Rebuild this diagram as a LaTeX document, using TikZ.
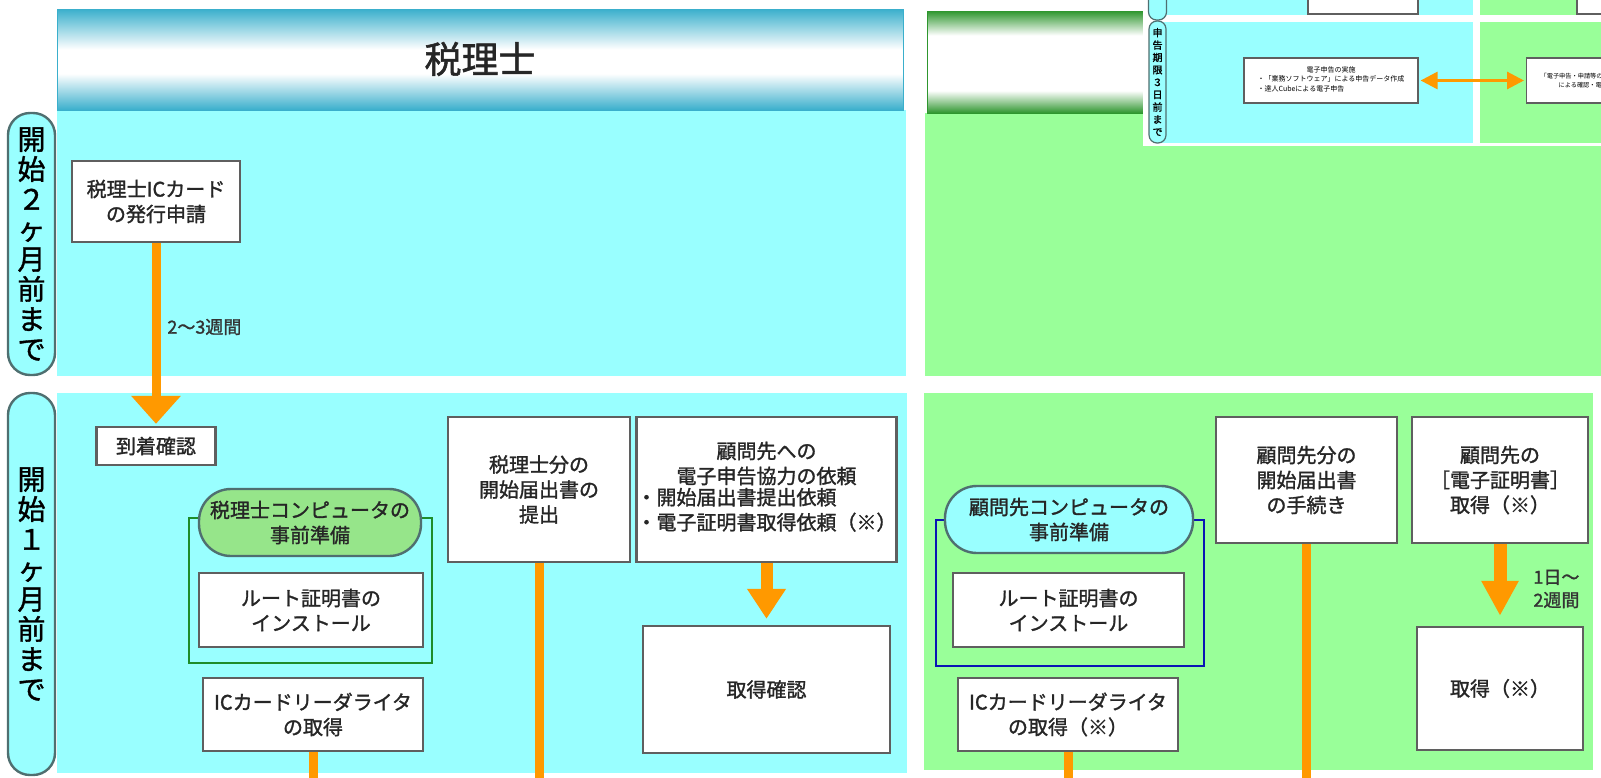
\documentclass[tikz,border=0pt]{standalone}
\usepackage{fontspec}
\setmainfont{Noto Sans CJK JP}[AutoFakeBold=1.4]
\usetikzlibrary{arrows.meta,positioning}
\definecolor{skyband}{HTML}{99FFFF}
\definecolor{leafband}{HTML}{99FF99}
\definecolor{hdrteal}{HTML}{3AAFCC}
\definecolor{hdrgreen}{HTML}{2E962E}
\definecolor{flow}{HTML}{FF9900}
\definecolor{boxgray}{HTML}{5F5F5F}
\definecolor{pillgray}{HTML}{4F6F70}
\definecolor{pillgreen}{HTML}{96E58A}
\definecolor{frameg}{HTML}{1E8C2A}
\definecolor{frameb}{HTML}{0A14B4}
\pgfdeclareverticalshading{tealbar}{100bp}{color(0bp)=(hdrteal); color(25bp)=(hdrteal); color(43bp)=(white); color(55bp)=(white); color(75bp)=(hdrteal); color(100bp)=(hdrteal)}
\pgfdeclareverticalshading{greenbar}{100bp}{color(0bp)=(hdrgreen); color(25bp)=(hdrgreen); color(36bp)=(white); color(63bp)=(white); color(75bp)=(hdrgreen); color(100bp)=(hdrgreen)}
\tikzset{
box/.style={draw=boxgray, line width=1.2pt, fill=white, align=center, inner sep=0pt, text=black!85, font=\fontsize{10}{12.5}\selectfont\bfseries}, % white step boxes
period/.style={draw=pillgray, line width=1.2pt, fill=skyband, rounded corners=11pt, minimum width=23.5pt, inner sep=0pt, align=center, font=\fontsize{14}{15}\selectfont\bfseries}, % time column on the left
prep/.style={draw=pillgray, line width=1.2pt, rounded corners=16pt, minimum height=33.5pt, inner sep=0pt, align=center, text=black!85, font=\fontsize{10}{12.5}\selectfont\bfseries}, % rounded title of a frame
flowline/.style={draw=flow, line width=4.5pt}, % orange connector
flowarrow/.style={flowline, -{Triangle[width=24pt,length=14pt]}}, % orange connector with head
note/.style={inner sep=0pt, align=left, text=black!80, font=\fontsize{9}{11.5}\selectfont\bfseries}, % waiting time
minibox/.style={draw=boxgray, line width=0.6pt, fill=white, inner sep=0pt}, % boxes in the small picture
}
\begin{document}
\begin{tikzpicture}[x=0.5pt,y=-0.5pt]
\useasboundingbox (0,0) rectangle (1601,777);
% bands
\fill[skyband] (57,110) rectangle (906,376);
\fill[leafband] (925,113) rectangle (1601,376);
\fill[skyband] (57,393) rectangle (907,773);
\fill[leafband] (924,393) rectangle (1593,770);
\shade[shading=tealbar, draw=hdrteal] (57,9) rectangle (903,110);
\shade[shading=greenbar, draw=hdrgreen] (927,11) rectangle (1601,113);
\node[text=black!85, font=\fontsize{18.5}{20}\selectfont\bfseries] (title) at (480,59) {税理士};
\node[period, minimum height=131pt] (term2) at (31.5,244) {開\\始\\２\\ヶ\\月\\前\\ま\\で};
\node[period, minimum height=191pt] (term1) at (31.5,584) {開\\始\\１\\ヶ\\月\\前\\ま\\で};
% frames
\draw[frameg, line width=1.3pt] (189,518) rectangle (432,663);
\draw[frameb, line width=1.3pt] (936,520) rectangle (1204,666);
% tax accountant
\node[box, minimum width=84pt, minimum height=40.5pt] (icapp) at (156,201.5) {税理士ICカード\\の発行申請};
\node[box, minimum width=59.5pt, minimum height=19pt] (arrive) at (156,446) {到着確認};
\node[prep, fill=pillgreen, minimum width=111pt] (prepL) at (310,522.5) {税理士コンピュータの\\事前準備};
\node[box, minimum width=112pt, minimum height=37pt] (rootL) at (311,610) {ルート証明書の\\インストール};
\node[box, minimum width=110pt, minimum height=36.5pt] (readerL) at (313,714.5) {ICカードリーダライタ\\の取得};
\node[box, minimum width=91pt, minimum height=72.5pt] (startL) at (539,489.5) {税理士分の\\開始届出書の\\提出};
\node[box, minimum width=123.5pt, minimum height=72.5pt] (askL) at (766.5,489.5) {顧問先への\\電子申告協力の依頼\\\begin{tabular}{@{}l@{}}・開始届出書提出依頼\\・電子証明書取得依頼（※）\end{tabular}};
\node[box, minimum width=123.5pt, minimum height=63.5pt] (confL) at (766.5,689.5) {取得確認};
% client
\node[prep, fill=skyband, minimum width=124pt] (prepR) at (1069,519.5) {顧問先コンピュータの\\事前準備};
\node[box, minimum width=115.5pt, minimum height=37pt] (rootR) at (1068.5,610) {ルート証明書の\\インストール};
\node[box, minimum width=110pt, minimum height=36.5pt] (readerR) at (1068,714.5) {ICカードリーダライタ\\の取得（※）};
\node[box, minimum width=90.5pt, minimum height=63pt] (startR) at (1306.5,480) {顧問先分の\\開始届出書\\の手続き};
\node[box, minimum width=88pt, minimum height=63pt] (certR) at (1500,480) {顧問先の\\［電子証明書］\\取得（※）};
\node[box, minimum width=83pt, minimum height=61.5pt] (getR) at (1500,688.5) {取得（※）};
\node[note, anchor=west] (wait1) at (167,327) {2〜3週間};
\node[note, anchor=west] (wait2) at (1533,589) {1日〜\\2週間};
\coordinate (downL1) at (313,780);
\coordinate (downL2) at (539,780);
\coordinate (downR1) at (1068,780);
\coordinate (downR2) at (1306.5,780);
\draw[flowarrow, shorten >=1pt] (icapp) -- (arrive);
\draw[flowline] (readerL) -- (downL1)
(startL) -- (downL2)
(readerR) -- (downR1)
(startR) -- (downR2);
\draw[flowline, line width=6pt, -{Triangle[width=18.5pt,length=15pt]}, shorten >=3pt] (askL) -- (confL);
\draw[flowline, line width=6.5pt, -{Triangle[width=17.5pt,length=17.5pt]}, shorten >=5pt] (certR) -- (getR);
% small picture in the corner
\begin{scope}
\clip (1143,0) rectangle (1601,146);
\fill[white] (1143,0) rectangle (1601,146);
\fill[skyband] (1157,-5) rectangle (1473,15);
\fill[leafband] (1480,-5) rectangle (1601,15);
\fill[skyband] (1157,22) rectangle (1473,143);
\fill[leafband] (1480,22) rectangle (1601,143);
\node[draw=pillgray, line width=0.6pt, fill=skyband, rounded corners=4pt, minimum width=9pt, minimum height=20pt] (miniterm0) at (1157.5,0) {};
\node[minibox, minimum width=55pt, minimum height=14pt] (minibox0) at (1363,0) {};
\node[minibox, minimum width=20pt, minimum height=14pt] (minibox1) at (1597,0) {};
\node[draw=pillgray, line width=0.6pt, fill=skyband, rounded corners=4pt, minimum width=8.5pt, minimum height=61pt, inner sep=0pt, align=center, font=\fontsize{5}{6.2}\selectfont\bfseries] (miniterm) at (1157.5,82) {申\\告\\期\\限\\３\\日\\前\\ま\\で};
\node[minibox, minimum width=87pt, minimum height=22.5pt, align=center, font=\fontsize{3.5}{4.7}\selectfont] (taxsoft) at (1331,80.5) {電子申告の実施\\\begin{tabular}{@{}l@{}}・「業務ソフトウェア」による申告データ作成\\・達人Cubeによる電子申告\end{tabular}};
\node[minibox, anchor=west, minimum width=45pt, minimum height=22.5pt, inner xsep=4pt, align=left, font=\fontsize{3.1}{4.7}\selectfont] (eview) at (1526,80.5) {「電子申告・申請等の\\\hspace{9pt}による確認・電};
\draw[flow, line width=1.5pt, {Triangle[width=8.5pt,length=8.5pt]}-{Triangle[width=8.5pt,length=8.5pt]}, shorten <=1pt, shorten >=1pt] (taxsoft) -- (eview);
\end{scope}
\end{tikzpicture}
\end{document}
